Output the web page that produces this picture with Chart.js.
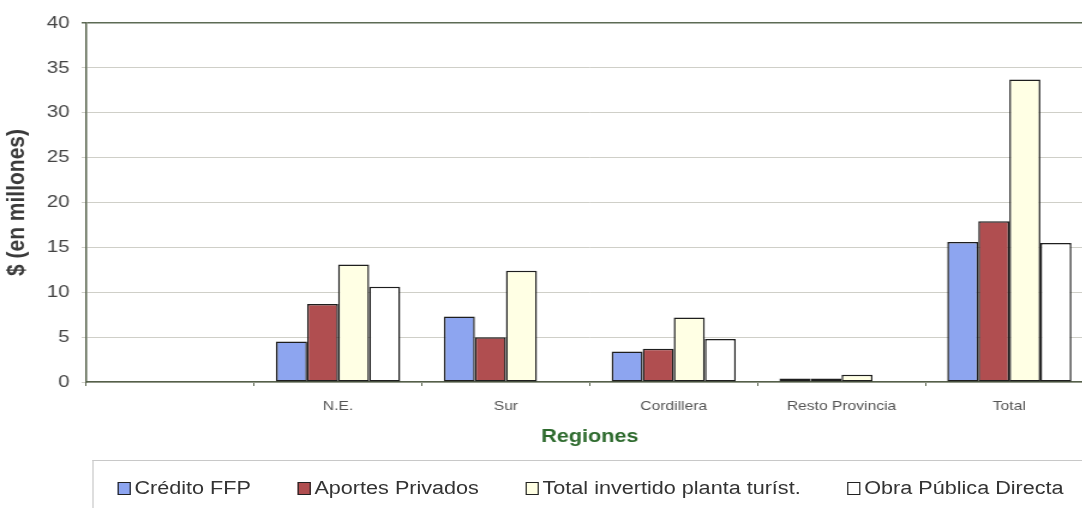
<!DOCTYPE html>
<html lang="es">
<head>
<meta charset="UTF-8">
<title>Inversión por regiones</title>
<script src="https://cdn.jsdelivr.net/npm/chart.js"></script>
<style>
  html, body { margin: 0; padding: 0; background: #fff; overflow: hidden; }
  /* chart is laid out 912px wide, then stretched horizontally */
  .stage {
    position: relative;
    width: 912px;
    height: 508px;
    transform: scaleX(1.2);
    transform-origin: 0 0;
    font-family: "Liberation Sans", Arial, sans-serif;
  }
  .legend {
    position: absolute;
    left: 77px; top: 460px; right: -40px; bottom: -10px;
    border-top: 1px solid #c8c8c8;
    border-left: 1px solid #c8c8c8;
    box-sizing: border-box;
    padding: 17px 0 0 20px;
    display: flex;
    align-items: flex-start;
  }
  .legend .item {
    display: flex;
    align-items: center;
    margin-right: 39px;
    font-size: 18px;
    color: #333;
    white-space: nowrap;
  }
  .legend .box {
    width: 9px;
    height: 11px;
    border: 1.5px solid #222;
    margin-right: 3px;
  }
</style>
</head>
<body>
<div class="stage">
  <canvas id="chart"></canvas>
  <div class="legend" id="legend"></div>
</div>
<script>
// categorías (la primera queda vacía)
const regiones = ['', 'N.E.', 'Sur', 'Cordillera', 'Resto Provincia', 'Total'];

// millones de $
const creditoFFP      = [null, 4.5, 7.3, 3.4, 0.4, 15.6];
const aportesPrivados = [null, 8.7, 5.0, 3.7, 0.4, 17.9];
const totalPlanta     = [null, 13.1, 12.4, 7.2, 0.8, 33.7];
const obraPublica     = [null, 10.6, 0, 4.8, 0, 15.5];

const series   = ['Crédito FFP', 'Aportes Privados', 'Total invertido planta turíst.', 'Obra Pública Directa'];
const colores  = ['#8da5f0', '#b04e50', '#ffffe4', '#ffffff'];
const valores  = [creditoFFP, aportesPrivados, totalPlanta, obraPublica];

const yMin = 0, yMax = 40, yStep = 5;

Chart.defaults.font.family = '"Liberation Sans", Arial, sans-serif';

const datasets = series.map((nombre, i) => ({
  label: nombre,
  data: valores[i],
  backgroundColor: colores[i],
  borderColor: '#1e1e1e',
  borderWidth: 1.5,
  borderSkipped: false,
  categoryPercentage: 0.74,
  barPercentage: 1
}));

new Chart(document.getElementById('chart'), {
  type: 'bar',
  data: { labels: regiones, datasets: datasets },
  options: {
    responsive: true,
    maintainAspectRatio: false,
    animation: false,
    layout: { padding: { top: 23, right: 1, bottom: 56, left: 0 } },
    plugins: {
      legend: { display: false },
      tooltip: { enabled: false }
    },
    scales: {
      x: {
        afterFit: (scale) => { scale.height = 70; },
        grid: {
          offset: true,
          drawOnChartArea: false,
          tickLength: 4,
          color: '#55604a'
        },
        border: { color: '#55604a', width: 1.5 },
        ticks: { padding: 13, color: '#555', font: { size: 13 } },
        title: {
          display: true,
          text: 'Regiones',
          color: '#2d6a2d',
          font: { size: 18, weight: 'bold' },
          padding: { top: 0, bottom: 4 }
        }
      },
      y: {
        min: yMin,
        max: yMax,
        afterFit: (scale) => { scale.width = 72; },
        grid: {
          tickLength: 4,
          color: (ctx) => (ctx.tick && ctx.tick.value === yMax) ? '#5d6b55' : '#cfcfc8',
          lineWidth: (ctx) => (ctx.tick && ctx.tick.value === yMax) ? 1.5 : 1
        },
        border: { color: '#55604a', width: 1.5 },
        ticks: { stepSize: yStep, padding: 10, color: '#444', font: { size: 17 } },
        title: {
          display: true,
          text: '$ (en millones)',
          color: '#3a3a3a',
          font: { size: 21, weight: 'bold' },
          padding: { top: 2, bottom: 0 }
        }
      }
    }
  }
});

// leyenda en HTML, debajo del gráfico
const legend = document.getElementById('legend');
series.forEach((nombre, i) => {
  const item = document.createElement('span');
  item.className = 'item';
  const box = document.createElement('span');
  box.className = 'box';
  box.style.background = colores[i];
  item.appendChild(box);
  item.appendChild(document.createTextNode(nombre));
  legend.appendChild(item);
});
</script>
</body>
</html>
